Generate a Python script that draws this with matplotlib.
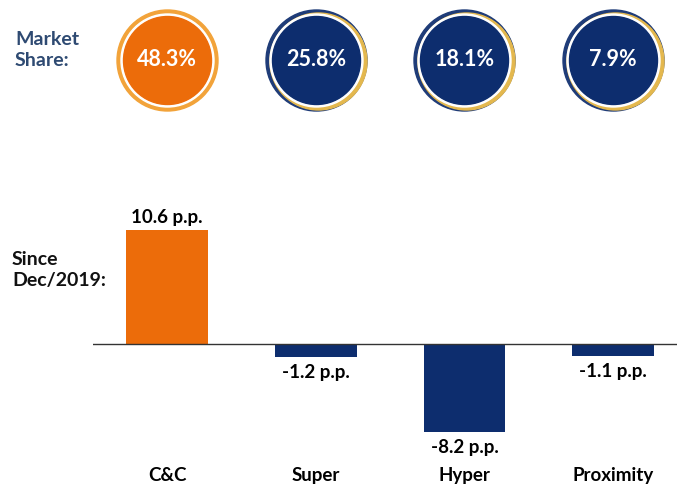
import matplotlib.pyplot as plt
import numpy as np

# données
categories = ["C&C", "Super", "Hyper", "Proximity"]
market_share = [48.3, 25.8, 18.1, 7.9]
delta_pp = [10.6, -1.2, -8.2, -1.1]

ORANGE = "#EC6C0A"
NAVY = "#0D2D6E"
plt.rcParams["font.family"] = ["Lato", "DejaVu Sans"]

W, H = 677, 491
fig = plt.figure(figsize=(W / 100, H / 100), dpi=100)

# axe des barres, placé en pixels
left, right, bottom, top = 93, 677, 46, 296
ax = fig.add_axes([left / W, bottom / H, (right - left) / W, (top - bottom) / H])
ax.set_xlim(-0.498, 3.43)
ax.set_ylim(-9.40, 13.86)
ax.axis("off")

x = np.arange(len(categories))
colors = [ORANGE if v > 0 else NAVY for v in delta_pp]
ax.bar(x, delta_pp, width=0.55, color=colors, zorder=2)
ax.axhline(0, color="#333333", lw=1.0, zorder=3)

for xi, v, cat in zip(x, delta_pp, categories):
    if v > 0:
        ax.annotate(f"{v:.1f} p.p.", (xi, v), xytext=(0, 3), textcoords="offset points",
                    ha="center", va="bottom", fontsize=13.5, fontweight="bold")
    else:
        ax.annotate(f"{v:.1f} p.p.", (xi, v), xytext=(0, -5), textcoords="offset points",
                    ha="center", va="top", fontsize=13.5, fontweight="bold")
    ax.text(xi, -12.2, cat, ha="center", va="center", fontsize=13.5, fontweight="bold")

# axe des cercles (même échelle x)
ax_top = fig.add_axes([left / W, (H - 120) / H, (right - left) / W, 120 / H])
ax_top.set_xlim(ax.get_xlim())
ax_top.set_ylim(0, 1)
ax_top.axis("off")

def dia(px):
    return (px * 72 / 100) ** 2

yc = (120 - 60) / 120
fills = [ORANGE] + [NAVY] * 3
rings = ["#F2A33A"] + ["#E4B84E"] * 3
for xi, share, fc, rc in zip(x, market_share, fills, rings):
    ax_top.scatter(xi, yc, s=dia(101), color=rc if fc == ORANGE else "#1F3C78", zorder=1)
    ax_top.scatter(xi + (0 if fc == ORANGE else 0.012), yc - 0.01, s=dia(97), color=rc, zorder=2)
    ax_top.scatter(xi, yc, s=dia(93), color="white", zorder=3)
    ax_top.scatter(xi, yc, s=dia(88), color=fc, zorder=4)
    ax_top.text(xi, yc, f"{share:.1f}%", ha="center", va="center", color="white",
                fontsize=15.5, fontweight="bold", zorder=5)

fig.text(15 / W, 1 - 50 / H, "Market\nShare:", ha="left", va="center", color="#2E4A72",
         fontsize=14, fontweight="bold", linespacing=1.25)
fig.text(12 / W, 1 - 270 / H, "Since\nDec/2019:", ha="left", va="center", color="#111111",
         fontsize=14, fontweight="bold", linespacing=1.25)

fig.savefig("out.png", dpi=100)
